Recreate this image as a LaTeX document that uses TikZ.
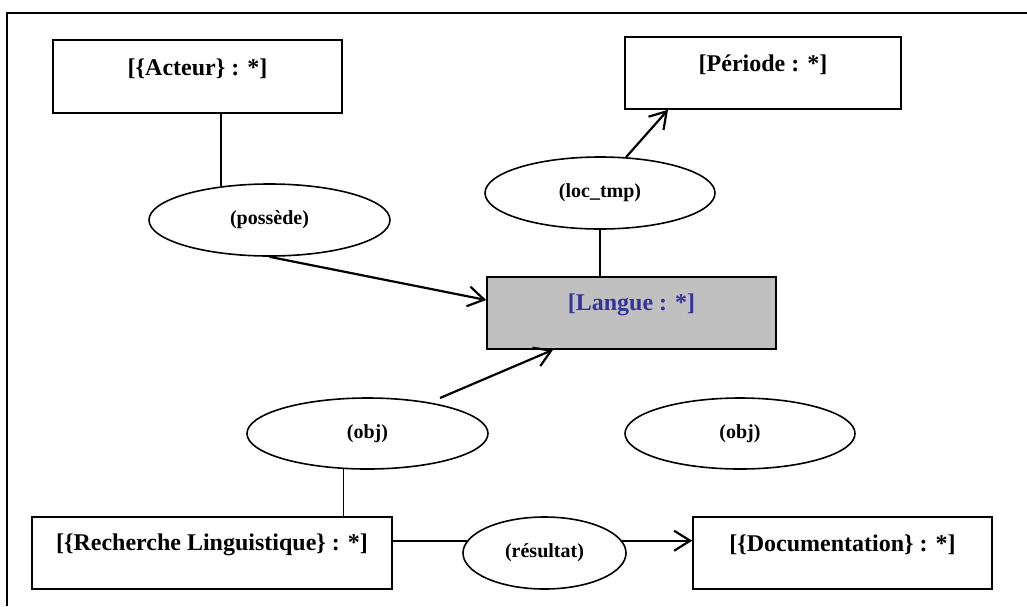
\documentclass[tikz,border=0pt]{standalone}
\usepackage{fontspec}
\setmainfont{Liberation Serif}
\usetikzlibrary{shapes.geometric,arrows.meta}
\definecolor{langblue}{RGB}{51,51,153}
\definecolor{langgray}{RGB}{192,192,192}
\tikzset{
  box/.style={draw, line width=1.6pt, rectangle, inner sep=0pt},
  boxtext/.style={font=\bfseries\fontsize{24}{28}\selectfont, inner sep=0pt},
  rel/.style={draw, line width=1.6pt, ellipse, inner sep=0pt, font=\bfseries\fontsize{20}{24}\selectfont},
  link/.style={line width=1.6pt},
  arr/.style={line width=2.2pt, -{Straight Barb[length=16pt,width=20pt,line width=2.2pt]}},
}
\begin{document}
\begin{tikzpicture}[x=1pt,y=-1pt]
\useasboundingbox (0,0) rectangle (1027,606);
\draw[line width=2.5pt] (7,606) -- (7,13) -- (1027,13);

% concept boxes
\node[box, minimum width=289pt, minimum height=73pt] (acteur) at (197.5,76.5) {};
\node[boxtext] (acteurT) at ([yshift=-29.5pt]acteur.north) {[\{Acteur\} : *]};
\node[box, minimum width=276pt, minimum height=72pt] (periode) at (763,73) {};
\node[boxtext] (periodeT) at ([yshift=-28.5pt]periode.north) {[Période : *]};
\node[box, fill=langgray, minimum width=289pt, minimum height=72pt] (langue) at (631.5,313) {};
\node[boxtext, text=langblue] (langueT) at ([yshift=-28.5pt]langue.north) {[Langue : *]};
\node[box, minimum width=360pt, minimum height=72pt] (recherche) at (212,553) {};
\node[boxtext] (rechercheT) at ([yshift=-28.5pt]recherche.north) {[\{Recherche Linguistique\} : *]};
\node[box, minimum width=299pt, minimum height=72pt] (doc) at (842.5,553) {};
\node[boxtext] (docT) at ([yshift=-28.5pt]doc.north) {[\{Documentation\} : *]};

% relations
\node[rel, minimum width=241pt, minimum height=72pt] (possede) at (269.5,220) {(possède)};
\node[rel, minimum width=230pt, minimum height=72pt] (loctmp) at (600,193) {(loc\_tmp)};
\node[rel, minimum width=241pt, minimum height=71pt] (obj1) at (367.5,433.5) {(obj)};
\node[rel, minimum width=230pt, minimum height=71pt] (obj2) at (740,433.5) {(obj)};
\node[rel, minimum width=163pt, minimum height=72pt] (resultat) at (544.5,553) {(résultat)};

% connectors
\draw[link] (acteur.south -| possede.145) -- (possede.145);
\draw[arr] (possede.south) -- ([yshift=13pt]langue.west);
\draw[link] (loctmp.south) -- (langue.north -| loctmp.south);
\draw[arr] (loctmp.54.5) -- ([xshift=-95pt]periode.south);
\coordinate (objstart) at ([shift={(72.5,-35.5)}]obj1.center);
\draw[arr] (objstart) -- ([xshift=-78.5pt]langue.south);
\draw[link] (obj1.236) -- (recherche.north -| obj1.236);
\draw[link] (recherche.east |- resultat.171) -- (resultat.171);
\draw[arr] (resultat.9) -- (doc.west |- resultat.9);
\end{tikzpicture}
\end{document}
